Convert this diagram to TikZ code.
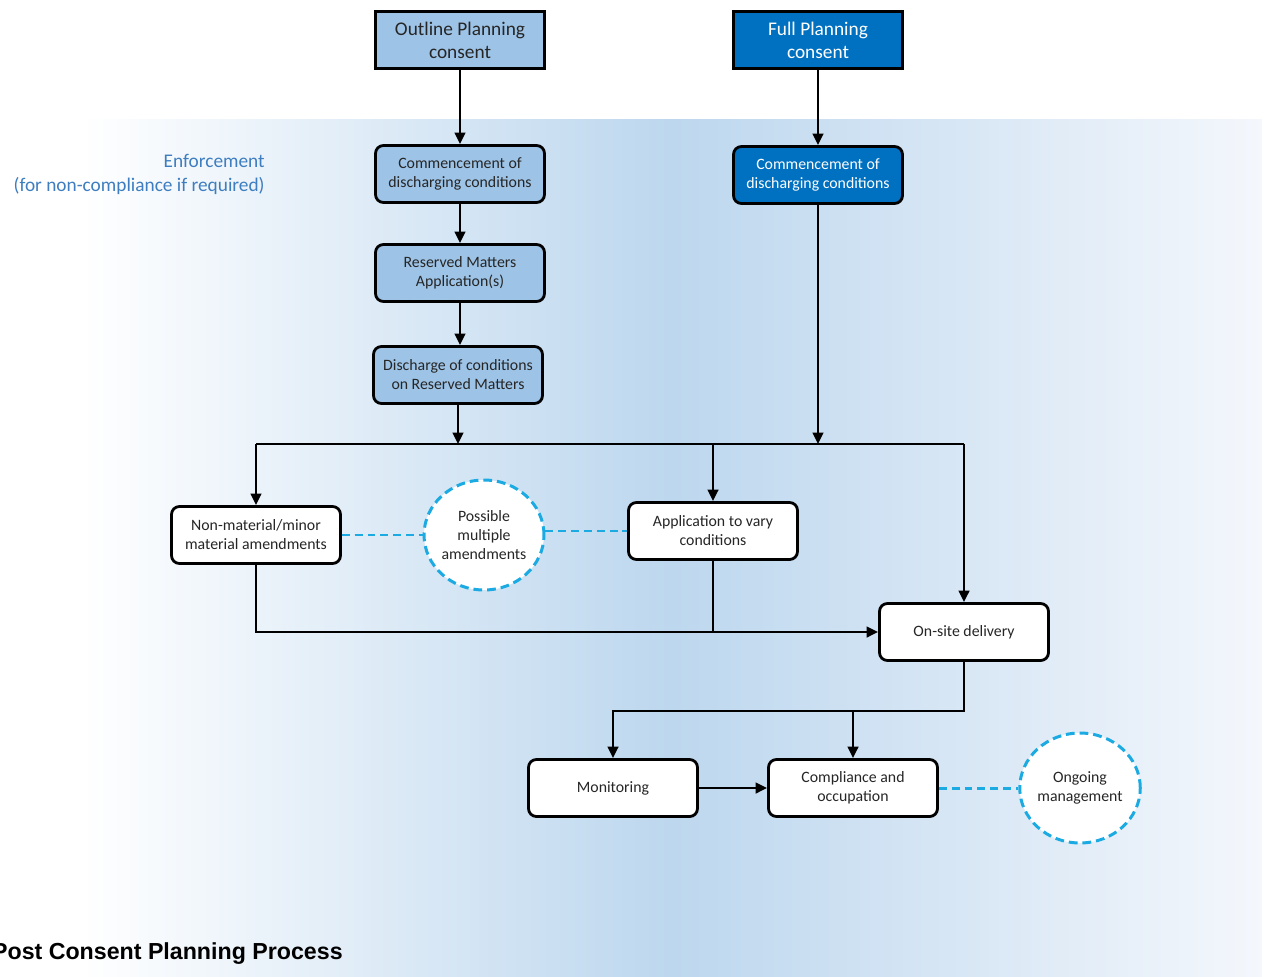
\documentclass[tikz,border=0pt]{standalone}
\usepackage{fontspec}
\setmainfont{Carlito}
\newfontfamily\titelschrift{Liberation Sans}
\usepackage{tikz}
\usetikzlibrary{arrows,arrows.meta,backgrounds,calc,positioning,shapes.geometric}
\definecolor{hellblau}{RGB}{157,195,230}
\definecolor{dunkelblau}{RGB}{0,112,192}
\definecolor{strichblau}{RGB}{27,170,226}
\definecolor{textblau}{RGB}{62,126,192}
\definecolor{hgMitte}{RGB}{189,215,238}
\definecolor{hgRechts}{RGB}{244,247,252}
\tikzset{
  kasten/.style={draw=black, line width=1.6pt, minimum width=3.38cm, minimum height=1.14cm,
    align=center, font=\fontsize{9}{10.8}\selectfont, rounded corners=4.5pt, fill=white, text=black!85},
  kopf/.style={kasten, rounded corners=0pt, font=\fontsize{11}{13}\selectfont},
  blase/.style={ellipse, draw=strichblau, line width=1.7pt, dash pattern=on 5pt off 2.8pt,
    fill=white, minimum width=2.36cm, minimum height=2.2cm, inner sep=0pt, align=center,
    font=\fontsize{9}{10.8}\selectfont, text=black!85},
  pfeil/.style={line width=1.4pt, -{Triangle[length=6.5pt,width=6pt]}},
  linie/.style={line width=1.4pt},
  strich/.style={draw=strichblau, line width=1.7pt, dash pattern=on 4.5pt off 2.8pt}
}
\begin{document}
\begin{tikzpicture}[x=0.02cm,y=-0.02cm]
%Rahmen in Pixeln des Vorbilds: 1266 x 976
\useasboundingbox (0,0) rectangle (1266,976);
\shade[left color=white, right color=hgRechts, middle color=hgMitte] (80,120) rectangle (1262,976);
%linke Spalte (Outline) und rechte Spalte (Full)
\node[kopf, fill=hellblau] (outline) at (460,40) {Outline Planning\\consent};
\node[kopf, fill=dunkelblau, text=white] (full) at (818,40) {Full Planning\\consent};
\node[kasten, fill=hellblau] (beginnL) at (460,174) {Commencement of\\discharging conditions};
\node[kasten, fill=dunkelblau, text=white] (beginnR) at (818,175) {Commencement of\\discharging conditions};
\node[kasten, fill=hellblau] (reserved) at (460,273) {Reserved Matters\\Application(s)};
\node[kasten, fill=hellblau] (discharge) at (458,375) {Discharge of conditions\\on Reserved Matters};
\node[anchor=north east, align=right, inner sep=0pt, text=textblau, font=\fontsize{11}{13.6}\selectfont] (enforcement) at (265,154) {Enforcement\\(for non-compliance if required)};
%mittlere Reihe
\coordinate (busL) at (256,444);
\coordinate (busR) at (964,444);
\node[kasten] (nonmat) at (256,535) {Non-material/minor\\material amendments};
\node[blase] (possible) at (484,535) {Possible\\multiple\\amendments};
\node[kasten] (vary) at (713,531) {Application to vary\\conditions};
\node[kasten] (onsite) at (964,632) {On-site delivery};
%untere Reihe
\coordinate (split) at (853,711);
\node[kasten] (monitor) at (613,788) {Monitoring};
\node[kasten] (compliance) at (853,788) {Compliance and\\occupation};
\node[blase] (ongoing) at (1080,788) {Ongoing\\management};
\node[anchor=base east, inner sep=0pt, font=\titelschrift\bfseries\fontsize{13.2}{15}\selectfont] (titel) at (343,959) {Post Consent Planning Process};
%Verbindungen
\draw[pfeil] (outline) -- (beginnL);
\draw[pfeil] (full) -- (beginnR);
\draw[pfeil] (beginnL) -- (reserved);
\draw[pfeil] (reserved) -- (reserved |- discharge.north);
\draw[linie] (busL) -- (busR);
\draw[pfeil] (discharge) -- (discharge |- busL);
\draw[pfeil] (beginnR) -- (beginnR |- busL);
\draw[pfeil] (busL) -- (nonmat);
\draw[pfeil] (vary |- busL) -- (vary);
\draw[pfeil] (busR) -- (onsite);
\draw[strich] (nonmat) -- (possible);
\draw[strich] (possible.east |- vary) -- (vary);
\draw[pfeil] (nonmat) |- (onsite);
\draw[linie] (vary) -- (vary |- onsite);
\draw[linie] (onsite) |- (split);
\draw[pfeil] (split) -| (monitor);
\draw[pfeil] (split) -- (compliance);
\draw[pfeil] (monitor) -- (compliance);
\draw[strich] (compliance) -- (ongoing);
\end{tikzpicture}
\end{document}
